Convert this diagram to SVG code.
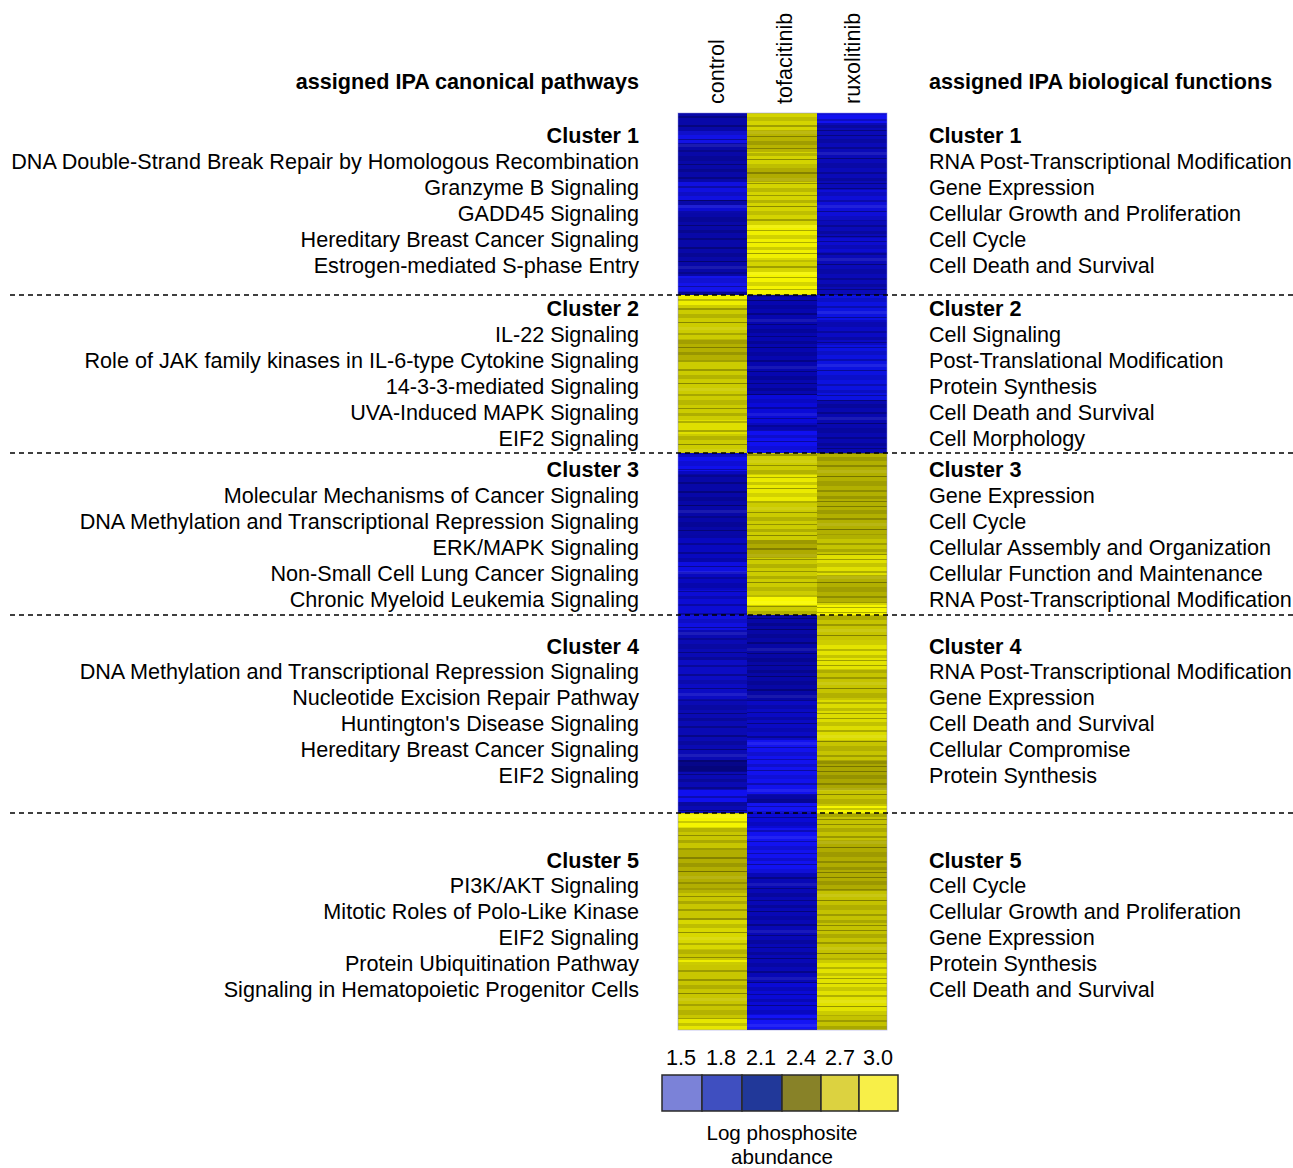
<svg xmlns="http://www.w3.org/2000/svg" width="1293" height="1168" viewBox="0 0 1293 1168">
<style>
text{font-family:"Liberation Sans",Arial,sans-serif;font-size:21.6px;fill:#000}
.l{text-anchor:end}
.b{font-weight:bold}
.c{text-anchor:middle}
.lt{font-size:20.6px}
.dash{stroke:#000;stroke-width:1.6;stroke-dasharray:5 4;fill:none}
.lg{stroke:#2a2a2a;stroke-width:1.5}
</style>
<defs>
<pattern id="t1" patternUnits="userSpaceOnUse" width="70" height="61">
<rect y="3" width="70" height="2" fill="#000" opacity="0.25"/>
<rect y="9" width="70" height="4" fill="#000" opacity="0.12"/>
<rect y="17" width="70" height="1" fill="#000" opacity="0.35"/>
<rect y="22" width="70" height="3" fill="#fff" opacity="0.08"/>
<rect y="28" width="70" height="2" fill="#000" opacity="0.18"/>
<rect y="34" width="70" height="5" fill="#000" opacity="0.1"/>
<rect y="42" width="70" height="1" fill="#000" opacity="0.3"/>
<rect y="47" width="70" height="3" fill="#000" opacity="0.15"/>
<rect y="55" width="70" height="2" fill="#000" opacity="0.22"/>
</pattern>
<pattern id="t2" patternUnits="userSpaceOnUse" width="70" height="47" y="11">
<rect y="1" width="70" height="3" fill="#000" opacity="0.15"/>
<rect y="7" width="70" height="1" fill="#000" opacity="0.35"/>
<rect y="12" width="70" height="4" fill="#000" opacity="0.1"/>
<rect y="20" width="70" height="2" fill="#000" opacity="0.25"/>
<rect y="26" width="70" height="3" fill="#fff" opacity="0.07"/>
<rect y="31" width="70" height="1" fill="#000" opacity="0.3"/>
<rect y="36" width="70" height="4" fill="#000" opacity="0.13"/>
<rect y="43" width="70" height="1" fill="#000" opacity="0.28"/>
</pattern>
<pattern id="t3" patternUnits="userSpaceOnUse" width="70" height="53" y="27">
<rect y="2" width="70" height="1" fill="#000" opacity="0.3"/>
<rect y="6" width="70" height="4" fill="#000" opacity="0.12"/>
<rect y="14" width="70" height="2" fill="#000" opacity="0.22"/>
<rect y="19" width="70" height="3" fill="#fff" opacity="0.08"/>
<rect y="25" width="70" height="1" fill="#000" opacity="0.35"/>
<rect y="30" width="70" height="5" fill="#000" opacity="0.1"/>
<rect y="39" width="70" height="2" fill="#000" opacity="0.2"/>
<rect y="45" width="70" height="3" fill="#000" opacity="0.14"/>
<rect y="50" width="70" height="1" fill="#000" opacity="0.3"/>
</pattern>
</defs>

<g id="headers">
<text class="l b" x="639" y="89">assigned IPA canonical pathways</text>
<text class="b" x="929" y="89">assigned IPA biological functions</text>
<text transform="translate(724,104) rotate(-90)">control</text>
<text transform="translate(792,104) rotate(-90)">tofacitinib</text>
<text transform="translate(860,104) rotate(-90)">ruxolitinib</text>
</g>

<g id="heatmap">
<!-- Cluster 1 -->
<rect x="678" y="113" width="69" height="182" fill="#0808a8"/>
<rect x="678" y="131" width="69" height="12" fill="#1212e6"/>
<rect x="678" y="182" width="69" height="18" fill="#1010e0"/>
<rect x="678" y="205" width="69" height="8" fill="#0c0cd0"/>
<rect x="678" y="276" width="69" height="16" fill="#1414ea"/>
<rect x="747" y="113" width="70" height="182" fill="#d4d400"/>
<rect x="747" y="130" width="70" height="22" fill="#b8b400"/>
<rect x="747" y="168" width="70" height="14" fill="#b0ac00"/>
<rect x="747" y="225" width="70" height="35" fill="#f0f000"/>
<rect x="747" y="272" width="70" height="23" fill="#f4f400"/>
<rect x="817" y="113" width="70" height="182" fill="#0a0ab8"/>
<rect x="817" y="113" width="70" height="10" fill="#1212f0"/>
<rect x="817" y="190" width="70" height="30" fill="#0e0ed8"/>
<rect x="817" y="238" width="70" height="14" fill="#0c0cd0"/>
<!-- Cluster 2 -->
<rect x="678" y="295" width="69" height="158" fill="#cccc00"/>
<rect x="678" y="295" width="69" height="10" fill="#eeee00"/>
<rect x="678" y="340" width="69" height="20" fill="#b4b000"/>
<rect x="678" y="420" width="69" height="14" fill="#e0e000"/>
<rect x="747" y="295" width="70" height="158" fill="#0606b0"/>
<rect x="747" y="395" width="70" height="30" fill="#0a0ad8"/>
<rect x="747" y="430" width="70" height="23" fill="#1010f0"/>
<rect x="817" y="295" width="70" height="158" fill="#0c12e0"/>
<rect x="817" y="320" width="70" height="25" fill="#0a0ac4"/>
<rect x="817" y="400" width="70" height="53" fill="#0808b0"/>
<!-- Cluster 3 -->
<rect x="678" y="453" width="69" height="162" fill="#0808c0"/>
<rect x="678" y="455" width="69" height="16" fill="#1010ec"/>
<rect x="678" y="475" width="69" height="60" fill="#0707a8"/>
<rect x="678" y="562" width="69" height="10" fill="#0e0ee0"/>
<rect x="678" y="590" width="69" height="25" fill="#0c0cd4"/>
<rect x="747" y="453" width="70" height="162" fill="#cccc00"/>
<rect x="747" y="475" width="70" height="28" fill="#eaea00"/>
<rect x="747" y="540" width="70" height="18" fill="#aeaa00"/>
<rect x="747" y="595" width="70" height="10" fill="#f8f800"/>
<rect x="817" y="453" width="70" height="162" fill="#b2b000"/>
<rect x="817" y="535" width="70" height="20" fill="#c4c400"/>
<rect x="817" y="555" width="70" height="20" fill="#e0e000"/>
<rect x="817" y="603" width="70" height="12" fill="#f6f600"/>
<!-- Cluster 4 -->
<rect x="678" y="615" width="69" height="198" fill="#0a0ab4"/>
<rect x="678" y="615" width="69" height="15" fill="#1010e0"/>
<rect x="678" y="660" width="69" height="40" fill="#0c0cc4"/>
<rect x="678" y="760" width="69" height="12" fill="#06068a"/>
<rect x="678" y="790" width="69" height="12" fill="#1010ee"/>
<rect x="747" y="615" width="70" height="198" fill="#0707a6"/>
<rect x="747" y="700" width="70" height="40" fill="#0a0ac4"/>
<rect x="747" y="740" width="70" height="55" fill="#1212ee"/>
<rect x="747" y="803" width="70" height="10" fill="#1414f2"/>
<rect x="817" y="615" width="70" height="198" fill="#c6c400"/>
<rect x="817" y="640" width="70" height="30" fill="#e4e400"/>
<rect x="817" y="700" width="70" height="40" fill="#dcdc00"/>
<rect x="817" y="760" width="70" height="30" fill="#aaa600"/>
<rect x="817" y="806" width="70" height="7" fill="#f6f600"/>
<!-- Cluster 5 -->
<rect x="678" y="813" width="69" height="217" fill="#c8c600"/>
<rect x="678" y="814" width="69" height="14" fill="#f4f400"/>
<rect x="678" y="850" width="69" height="40" fill="#b2ae00"/>
<rect x="678" y="920" width="69" height="30" fill="#d8d800"/>
<rect x="678" y="960" width="69" height="5" fill="#eeee00"/>
<rect x="678" y="1018" width="69" height="12" fill="#e6e600"/>
<rect x="747" y="813" width="70" height="217" fill="#0a0ad6"/>
<rect x="747" y="828" width="70" height="45" fill="#1212f0"/>
<rect x="747" y="873" width="70" height="110" fill="#0808b6"/>
<rect x="747" y="1015" width="70" height="15" fill="#1414f4"/>
<rect x="817" y="813" width="70" height="217" fill="#c4c200"/>
<rect x="817" y="840" width="70" height="50" fill="#b0ac00"/>
<rect x="817" y="960" width="70" height="55" fill="#e2e200"/>
<!-- texture -->
<rect x="678" y="113" width="69" height="917" fill="url(#t1)"/>
<rect x="747" y="113" width="70" height="917" fill="url(#t2)"/>
<rect x="817" y="113" width="70" height="917" fill="url(#t3)"/>
<rect x="678" y="113" width="209" height="917" fill="none" stroke="#8888dd" stroke-width="0.8" opacity="0.6"/>
</g>

<g id="separators">
<line class="dash" x1="10" y1="295" x2="1293" y2="295"/>
<line class="dash" x1="10" y1="453" x2="1293" y2="453"/>
<line class="dash" x1="10" y1="615" x2="1293" y2="615"/>
<line class="dash" x1="10" y1="813" x2="1293" y2="813"/>
</g>

<g id="cluster1">
<text class="l b" x="639" y="143">Cluster 1</text>
<text class="l" x="639" y="169">DNA Double-Strand Break Repair by Homologous Recombination</text>
<text class="l" x="639" y="195">Granzyme B Signaling</text>
<text class="l" x="639" y="221">GADD45 Signaling</text>
<text class="l" x="639" y="247">Hereditary Breast Cancer Signaling</text>
<text class="l" x="639" y="273">Estrogen-mediated S-phase Entry</text>
<text class="b" x="929" y="143">Cluster 1</text>
<text x="929" y="169">RNA Post-Transcriptional Modification</text>
<text x="929" y="195">Gene Expression</text>
<text x="929" y="221">Cellular Growth and Proliferation</text>
<text x="929" y="247">Cell Cycle</text>
<text x="929" y="273">Cell Death and Survival</text>
</g>

<g id="cluster2">
<text class="l b" x="639" y="316">Cluster 2</text>
<text class="l" x="639" y="342">IL-22 Signaling</text>
<text class="l" x="639" y="368">Role of JAK family kinases in IL-6-type Cytokine Signaling</text>
<text class="l" x="639" y="394">14-3-3-mediated Signaling</text>
<text class="l" x="639" y="420">UVA-Induced MAPK Signaling</text>
<text class="l" x="639" y="446">EIF2 Signaling</text>
<text class="b" x="929" y="316">Cluster 2</text>
<text x="929" y="342">Cell Signaling</text>
<text x="929" y="368">Post-Translational Modification</text>
<text x="929" y="394">Protein Synthesis</text>
<text x="929" y="420">Cell Death and Survival</text>
<text x="929" y="446">Cell Morphology</text>
</g>

<g id="cluster3">
<text class="l b" x="639" y="477">Cluster 3</text>
<text class="l" x="639" y="503">Molecular Mechanisms of Cancer Signaling</text>
<text class="l" x="639" y="529">DNA Methylation and Transcriptional Repression Signaling</text>
<text class="l" x="639" y="555">ERK/MAPK Signaling</text>
<text class="l" x="639" y="581">Non-Small Cell Lung Cancer Signaling</text>
<text class="l" x="639" y="607">Chronic Myeloid Leukemia Signaling</text>
<text class="b" x="929" y="477">Cluster 3</text>
<text x="929" y="503">Gene Expression</text>
<text x="929" y="529">Cell Cycle</text>
<text x="929" y="555">Cellular Assembly and Organization</text>
<text x="929" y="581">Cellular Function and Maintenance</text>
<text x="929" y="607">RNA Post-Transcriptional Modification</text>
</g>

<g id="cluster4">
<text class="l b" x="639" y="654">Cluster 4</text>
<text class="l" x="639" y="679">DNA Methylation and Transcriptional Repression Signaling</text>
<text class="l" x="639" y="705">Nucleotide Excision Repair Pathway</text>
<text class="l" x="639" y="731">Huntington's Disease Signaling</text>
<text class="l" x="639" y="757">Hereditary Breast Cancer Signaling</text>
<text class="l" x="639" y="783">EIF2 Signaling</text>
<text class="b" x="929" y="654">Cluster 4</text>
<text x="929" y="679">RNA Post-Transcriptional Modification</text>
<text x="929" y="705">Gene Expression</text>
<text x="929" y="731">Cell Death and Survival</text>
<text x="929" y="757">Cellular Compromise</text>
<text x="929" y="783">Protein Synthesis</text>
</g>

<g id="cluster5">
<text class="l b" x="639" y="868">Cluster 5</text>
<text class="l" x="639" y="893">PI3K/AKT Signaling</text>
<text class="l" x="639" y="919">Mitotic Roles of Polo-Like Kinase</text>
<text class="l" x="639" y="945">EIF2 Signaling</text>
<text class="l" x="639" y="971">Protein Ubiquitination Pathway</text>
<text class="l" x="639" y="997">Signaling in Hematopoietic Progenitor Cells</text>
<text class="b" x="929" y="868">Cluster 5</text>
<text x="929" y="893">Cell Cycle</text>
<text x="929" y="919">Cellular Growth and Proliferation</text>
<text x="929" y="945">Gene Expression</text>
<text x="929" y="971">Protein Synthesis</text>
<text x="929" y="997">Cell Death and Survival</text>
</g>

<g id="legend">
<text class="c" x="681" y="1065">1.5</text>
<text class="c" x="721" y="1065">1.8</text>
<text class="c" x="761" y="1065">2.1</text>
<text class="c" x="801" y="1065">2.4</text>
<text class="c" x="840" y="1065">2.7</text>
<text class="c" x="878" y="1065">3.0</text>
<rect class="lg" x="662" y="1075" width="40" height="36" fill="#7b82d8"/>
<rect class="lg" x="702" y="1075" width="40" height="36" fill="#3f4fc0"/>
<rect class="lg" x="742" y="1075" width="40" height="36" fill="#213899"/>
<rect class="lg" x="782" y="1075" width="39" height="36" fill="#888228"/>
<rect class="lg" x="821" y="1075" width="38" height="36" fill="#dcd240"/>
<rect class="lg" x="859" y="1075" width="39" height="36" fill="#f8ef48"/>
<text class="c lt" x="782" y="1139.5">Log phosphosite</text>
<text class="c lt" x="782" y="1163.5">abundance</text>
</g>
</svg>
